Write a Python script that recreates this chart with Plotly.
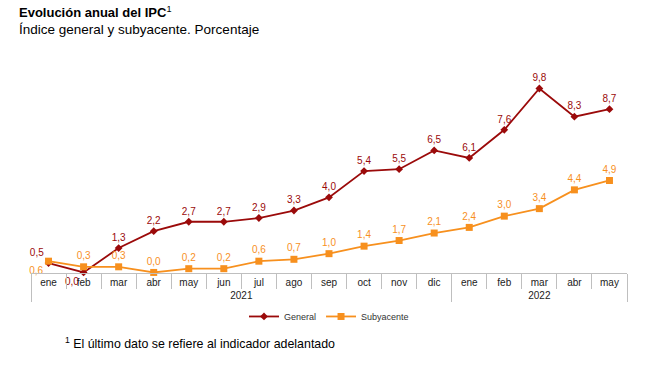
import plotly.graph_objects as go

years = ["2021"] * 12 + ["2022"] * 5
months = ["ene", "feb", "mar", "abr", "may", "jun", "jul", "ago", "sep", "oct", "nov", "dic",
          "ene", "feb", "mar", "abr", "may"]
general = [0.5, 0.0, 1.3, 2.2, 2.7, 2.7, 2.9, 3.3, 4.0, 5.4, 5.5, 6.5, 6.1, 7.6, 9.8, 8.3, 8.7]
subyacente = [0.6, 0.3, 0.3, 0.0, 0.2, 0.2, 0.6, 0.7, 1.0, 1.4, 1.7, 2.1, 2.4, 3.0, 3.4, 4.4, 4.9]

C_GEN = "#9b0a0a"
C_SUB = "#f7901e"

def fmt(v):
    return f"{v:.1f}".replace(".", ",")

gen_pos = ["top left", "bottom left"] + ["top center"] * 15
sub_pos = ["bottom left"] + ["top center"] * 16

fig = go.Figure()
fig.add_trace(go.Scatter(
    x=[years, months], y=general, name="General", mode="lines+markers+text",
    line=dict(color=C_GEN, width=1.8),
    marker=dict(symbol="diamond", size=6, color=C_GEN),
    text=[fmt(v) for v in general], textposition=gen_pos,
    textfont=dict(color=C_GEN, size=10, family="Liberation Sans, Arial"),
    cliponaxis=False,
))
fig.add_trace(go.Scatter(
    x=[years, months], y=subyacente, name="Subyacente", mode="lines+markers+text",
    line=dict(color=C_SUB, width=1.8),
    marker=dict(symbol="square", size=7, color=C_SUB),
    text=[fmt(v) for v in subyacente], textposition=sub_pos,
    textfont=dict(color=C_SUB, size=10, family="Liberation Sans, Arial"),
    cliponaxis=False,
))

fig.update_layout(
    width=650, height=383,
    margin=dict(l=31, r=23, t=66, b=110),
    paper_bgcolor="white", plot_bgcolor="white",
    font=dict(family="Liberation Sans, Arial", color="#222222"),
    showlegend=True,
    legend=dict(orientation="h", x=0.5, xanchor="center", y=-0.21, yanchor="middle",
                font=dict(size=9, color="#333333")),
    xaxis=dict(
        type="multicategory", automargin=False, range=[-0.5, len(months) - 0.5],
        showline=True, linecolor="#bfbfbf", linewidth=1,
        ticks="outside", tickson="boundaries", ticklen=15, tickcolor="#bfbfbf",
        showdividers=True, dividercolor="#bfbfbf", dividerwidth=1,
        tickfont=dict(size=10, color="#222222"), showgrid=False,
    ),
    yaxis=dict(range=[-0.03, 11], visible=False, automargin=False, showgrid=False, zeroline=False),
    annotations=[
        dict(text="<b>Evolución anual del IPC</b><sup>1</sup>", xref="paper", yref="paper",
             x=(17 - 31) / 596, y=(273 - 12) / 207, xanchor="left", yanchor="middle", showarrow=False,
             font=dict(size=13, color="#000000")),
        dict(text="Índice general y subyacente. Porcentaje", xref="paper", yref="paper",
             x=(17 - 31) / 596, y=(273 - 30) / 207, xanchor="left", yanchor="middle", showarrow=False,
             font=dict(size=13.5, color="#000000")),
        dict(text="<sup>1</sup> El último dato se refiere al indicador adelantado", xref="paper", yref="paper",
             x=(63 - 31) / 596, y=(273 - 343) / 207, xanchor="left", yanchor="middle", showarrow=False,
             font=dict(size=12.4, color="#000000")),
    ],
)

fig.write_html("out.html", config={"displayModeBar": False},
               post_script="document.body.style.margin='0';")
